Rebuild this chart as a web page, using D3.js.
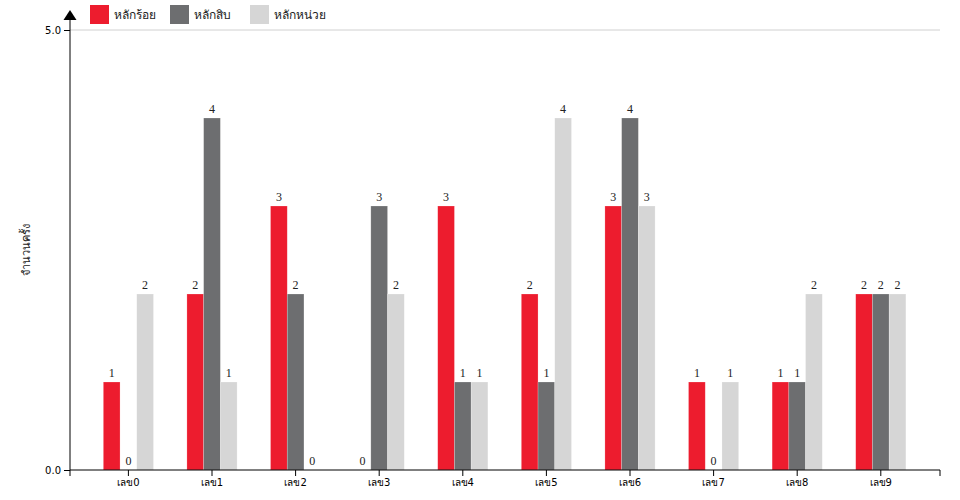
<!DOCTYPE html>
<html><head><meta charset="utf-8">
<script src="https://cdn.jsdelivr.net/npm/d3@7"></script>
<style>body{margin:0;background:#fff}svg{font-family:"DejaVu Sans",sans-serif}</style>
</head><body>
<svg id="c" width="960" height="500"></svg>
<script>
const categories = ["เลข0","เลข1","เลข2","เลข3","เลข4","เลข5","เลข6","เลข7","เลข8","เลข9"];
const seriesNames = ["หลักร้อย","หลักสิบ","หลักหน่วย"];
const hundreds = [1,2,3,0,3,2,3,1,1,2];
const tens = [0,4,2,3,1,1,4,0,1,2];
const units = [2,1,0,2,1,4,3,1,2,2];
const yTicks = [0,5];
const colors = ["#ed1c2e","#6d6e70","#d6d6d6"];
const series = [hundreds, tens, units];

(function(){
const svg = d3.select("#c");
const mL = 70, mR = 940, mT = 30, mB = 470;
const y = d3.scaleLinear().domain([0,5]).range([mB, mT]);
const x0 = d3.scaleBand().domain(categories).range([86.6, 922.6]).paddingInner(0.4).paddingOuter(0.2);
const x1 = d3.scaleBand().domain(d3.range(3)).range([0, x0.bandwidth()]);

svg.append("line").attr("x1", mL).attr("x2", mR).attr("y1", y(5)).attr("y2", y(5))
  .attr("stroke", "#d0d0d0").attr("stroke-width", 1);

const g = svg.append("g");
categories.forEach((c, i) => {
  series.forEach((s, j) => {
    const v = s[i];
    const bx = x0(c) + x1(j);
    g.append("rect").attr("x", bx).attr("y", y(v)).attr("width", x1.bandwidth())
      .attr("height", y(0) - y(v)).attr("fill", colors[j])
      .attr("stroke", "rgba(255,255,255,0.35)").attr("stroke-width", 0.6);
    g.append("text").attr("x", bx + x1.bandwidth()/2).attr("y", y(v) - 5)
      .attr("text-anchor", "middle").attr("font-family", "'Liberation Serif',serif")
      .attr("font-size", 12).attr("fill", "#222").text(v);
  });
});

const xa = svg.append("g").attr("transform", `translate(0,${mB})`)
  .call(d3.axisBottom(x0).tickSize(6).tickSizeOuter(0));
xa.select(".domain").attr("d", `M${mL},6V0H${mR}V6`);
xa.selectAll("text").attr("font-size", 10).attr("font-family", "'DejaVu Sans',sans-serif").attr("fill", "#000");

const ya = svg.append("g").attr("transform", `translate(${mL},0)`)
  .call(d3.axisLeft(y).tickValues(yTicks).tickFormat(d3.format(".1f")).tickSize(6).tickSizeOuter(0));
ya.select(".domain").attr("d", `M0,${mB}V18`);
ya.selectAll("text").attr("font-size", 10).attr("font-family", "'DejaVu Sans',sans-serif").attr("fill", "#000");
svg.append("path").attr("d", `M${mL-6.5},20L${mL},10L${mL+6.5},20Z`).attr("fill", "#000");

svg.append("text").attr("transform", "translate(30,250) rotate(-90)")
  .attr("text-anchor", "middle").attr("font-size", 11).attr("fill", "#222").text("จำนวนครั้ง");

const lx = [90, 170, 250];
seriesNames.forEach((n, j) => {
  svg.append("rect").attr("x", lx[j]).attr("y", 5).attr("width", 19).attr("height", 19).attr("fill", colors[j]);
  svg.append("text").attr("x", lx[j] + 24).attr("y", 19).attr("font-size", 12).attr("fill", "#222").text(n);
});
})();
</script>
</body></html>
